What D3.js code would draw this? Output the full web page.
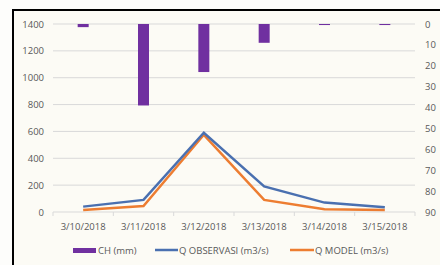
<!DOCTYPE html>
<html>
<head>
<meta charset="utf-8">
<script src="https://cdn.jsdelivr.net/npm/d3@7"></script>
<style>
  html, body { margin: 0; background: #fff; overflow: hidden; }
  svg { display: block; }
  svg text { font-family: "Open Sans", "Noto Sans", sans-serif; fill: #595959; }
</style>
</head>
<body>
<div id="chart"></div>
<script>
(function(){
  const dates = ["3/10/2018", "3/11/2018", "3/12/2018", "3/13/2018", "3/14/2018", "3/15/2018"];
  const chMm = [1.5, 39, 23, 9, 0.5, 0.5];
  const qObservasi = [40, 90, 590, 190, 70, 35];
  const qModel = [15, 45, 575, 90, 20, 15];
  const leftTicks = [0, 200, 400, 600, 800, 1000, 1200, 1400];
  const rightTicks = [0, 10, 20, 30, 40, 50, 60, 70, 80, 90];

  const width = 440, height = 265;
  const plot = { left: 53, right: 415, top: 24, bottom: 212 };

  const svg = d3.select("#chart").append("svg")
    .attr("width", width)
    .attr("height", height);

  // background + frame (right and bottom edges fall outside the picture)
  svg.append("rect").attr("width", width).attr("height", height).attr("fill", "#fdfdfb");
  svg.append("rect")
    .attr("x", 13).attr("y", 10)
    .attr("width", width + 20).attr("height", height)
    .attr("fill", "#fcfbf5")
    .attr("stroke", "#000").attr("stroke-width", 2);

  const x = d3.scaleBand().domain(dates).range([plot.left, plot.right]);
  const yL = d3.scaleLinear().domain([0, 1400]).range([plot.bottom, plot.top]);
  const yR = d3.scaleLinear().domain([0, 90]).range([plot.top, plot.bottom]);

  // gridlines
  svg.append("g")
    .selectAll("line")
    .data(leftTicks)
    .enter().append("line")
    .attr("x1", plot.left).attr("x2", plot.right)
    .attr("y1", d => yL(d)).attr("y2", d => yL(d))
    .attr("stroke", "#d9d9d9").attr("stroke-width", 1);

  // left axis
  const leftAxis = svg.append("g")
    .attr("transform", `translate(${plot.left - 9},0)`)
    .call(d3.axisLeft(yL).tickValues(leftTicks).tickFormat(d3.format("d")).tickSize(0).tickPadding(0));
  leftAxis.select(".domain").remove();
  leftAxis.selectAll("text").attr("font-size", 9.5).style("fill", "#595959");

  // right axis
  const rightAxis = svg.append("g")
    .attr("transform", `translate(${plot.right + 10},0)`)
    .call(d3.axisRight(yR).tickValues(rightTicks).tickSize(0).tickPadding(0));
  rightAxis.select(".domain").remove();
  rightAxis.selectAll("text").attr("font-size", 9.5).style("fill", "#595959");

  // x axis
  const xAxis = svg.append("g")
    .attr("transform", `translate(0,${plot.bottom})`)
    .call(d3.axisBottom(x).tickSize(0).tickPadding(11));
  xAxis.select(".domain").remove();
  xAxis.selectAll("text").attr("font-size", 9.5).style("fill", "#595959");
  svg.append("g")
    .selectAll("line")
    .data(dates.concat([null]))
    .enter().append("line")
    .attr("x1", (d, i) => i < dates.length ? x(d) : x(dates[dates.length - 1]) + x.bandwidth())
    .attr("x2", (d, i) => i < dates.length ? x(d) : x(dates[dates.length - 1]) + x.bandwidth())
    .attr("y1", plot.bottom).attr("y2", plot.bottom + 4)
    .attr("stroke", "#d9d9d9");

  // rainfall bars hanging from top
  const barW = 11;
  svg.append("g")
    .selectAll("rect")
    .data(chMm)
    .enter().append("rect")
    .attr("x", (d, i) => x(dates[i]) + x.bandwidth() / 2 - barW / 2)
    .attr("y", yR(0))
    .attr("width", barW)
    .attr("height", d => yR(d) - yR(0))
    .attr("fill", "#7030a0");

  // discharge lines
  const line = d3.line()
    .x((d, i) => x(dates[i]) + x.bandwidth() / 2)
    .y(d => yL(d));
  svg.append("path").datum(qModel)
    .attr("d", line).attr("fill", "none")
    .attr("stroke", "#ed7d31").attr("stroke-width", 2.5);
  svg.append("path").datum(qObservasi)
    .attr("d", line).attr("fill", "none")
    .attr("stroke", "#4a70b0").attr("stroke-width", 2.5);

  // legend
  const legend = svg.append("g").attr("transform", "translate(0,250)");
  legend.append("rect").attr("x", 73).attr("y", -2).attr("width", 23).attr("height", 5).attr("fill", "#7030a0");
  legend.append("text").attr("x", 98).attr("y", 4).attr("font-size", 9.5).text("CH (mm)");
  legend.append("line").attr("x1", 155).attr("x2", 178).attr("y1", 0).attr("y2", 0)
    .attr("stroke", "#4a70b0").attr("stroke-width", 2.5);
  legend.append("text").attr("x", 179).attr("y", 4).attr("font-size", 9.5).text("Q OBSERVASI (m3/s)");
  legend.append("line").attr("x1", 290).attr("x2", 314).attr("y1", 0).attr("y2", 0)
    .attr("stroke", "#ed7d31").attr("stroke-width", 2.5);
  legend.append("text").attr("x", 315).attr("y", 4).attr("font-size", 9.5).text("Q MODEL (m3/s)");
})();
</script>
</body>
</html>
